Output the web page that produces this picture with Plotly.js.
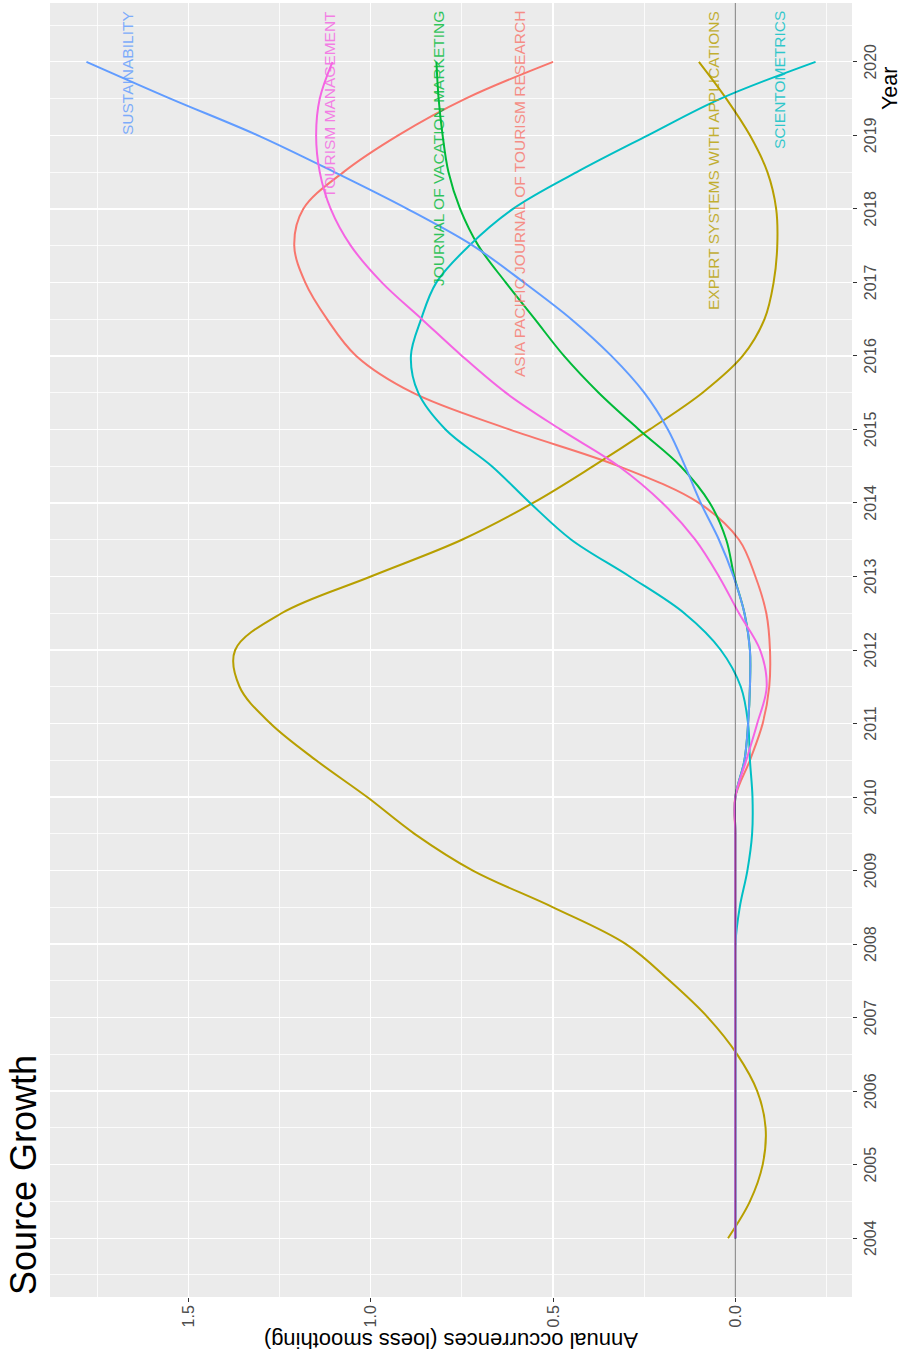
<!DOCTYPE html>
<html><head><meta charset="utf-8">
<script src="https://cdn.plot.ly/plotly-3.0.1.min.js"></script>
<style>
html,body{margin:0;padding:0;width:907px;height:1354px;overflow:hidden;background:#fff;}
#wrap{position:absolute;left:0;top:0;width:1354px;height:907px;transform-origin:0 0;transform:rotate(-90deg) translate(-1354px,0);}
#chart{width:1354px;height:907px;}
</style></head><body><div id="wrap"><div id="chart"></div></div>
<script>
// Shared year grid (half-year steps)
const years = [2004,2004.5,2005,2005.5,2006,2006.5,2007,2007.5,2008,2008.5,2009,2009.5,2010,2010.5,2011,2011.5,2012,2012.5,2013,2013.5,2014,2014.5,2015,2015.5,2016,2016.5,2017,2017.5,2018,2018.5,2019,2019.5,2020];
const yearTicks = [2004,2005,2006,2007,2008,2009,2010,2011,2012,2013,2014,2015,2016,2017,2018,2019,2020];

const sources = ["ASIA PACIFIC JOURNAL OF TOURISM RESEARCH","EXPERT SYSTEMS WITH APPLICATIONS","JOURNAL OF VACATION MARKETING","SCIENTOMETRICS","SUSTAINABILITY","TOURISM MANAGEMENT"];
const colors = ["#F8766D","#B79F00","#00BA38","#00BFC4","#619CFF","#F564E3"];

const asiaPacific = [0,0,0,0,0,0,0,0,0,0,0,0,0,-0.04,-0.075,-0.093,-0.095,-0.085,-0.055,-0.01,0.10,0.32,0.62,0.885,1.04,1.12,1.18,1.21,1.185,1.075,0.925,0.74,0.50];
const expertSystems = [0.02,-0.04,-0.075,-0.083,-0.06,-0.005,0.075,0.18,0.30,0.50,0.72,0.88,1.01,1.15,1.275,1.36,1.372,1.245,1.00,0.75,0.555,0.39,0.235,0.09,-0.02,-0.08,-0.105,-0.115,-0.112,-0.088,-0.04,0.025,0.10];
const vacationMarketing = [0,0,0,0,0,0,0,0,0,0,0,0,0,-0.025,-0.035,-0.04,-0.04,-0.025,0.003,0.025,0.07,0.15,0.265,0.375,0.47,0.55,0.63,0.705,0.755,0.787,0.803,0.814,0.82];
const scientometrics = [0,0,0,0,0,0,0,0,0,-0.012,-0.033,-0.046,-0.047,-0.04,-0.035,-0.015,0.04,0.14,0.29,0.45,0.563,0.668,0.795,0.87,0.89,0.862,0.82,0.73,0.61,0.435,0.24,0.04,-0.22];
const sustainability = [0,0,0,0,0,0,0,0,0,0,0,0,0,-0.025,-0.035,-0.04,-0.04,-0.025,0.005,0.045,0.095,0.138,0.185,0.25,0.34,0.45,0.58,0.72,0.90,1.10,1.31,1.55,1.78];
const tourismManagement = [0,0,0,0,0,0,0,0,0,0,0,0,0,-0.03,-0.06,-0.086,-0.068,-0.01,0.045,0.11,0.20,0.32,0.48,0.63,0.75,0.86,0.97,1.055,1.11,1.14,1.15,1.14,1.105];

const labelY = [0.591,0.060,0.815,-0.122,1.667,1.112];
const labelX = 2020.72;

const series = [asiaPacific, expertSystems, vacationMarketing, scientometrics, sustainability, tourismManagement];
const FONT = "Liberation Sans, Arial, Helvetica, sans-serif";

const traces = series.map((v,i)=>({
  type:'scatter', mode:'lines', x:years, y:v, name:sources[i],
  line:{color:colors[i], width:2, shape:'spline', smoothing:1},
  hoverinfo:'skip', showlegend:false
}));

const annotations = sources.map((s,i)=>({
  text:s, x:labelX, y:labelY[i], xref:'x', yref:'y', xanchor:'right', yanchor:'middle',
  showarrow:false, font:{family:FONT, size:15.5, color:colors[i]}, opacity:0.8
}));
annotations.push({text:'Source Growth', xref:'paper', yref:'paper', x:0, y:1.033, xanchor:'left', yanchor:'middle', showarrow:false, font:{family:FONT, size:36, color:'#000'}});
annotations.push({text:'Year', xref:'paper', yref:'paper', x:0.952, y:-0.047, xanchor:'right', yanchor:'middle', showarrow:false, font:{family:FONT, size:21.5, color:'#000'}});
annotations.push({text:'Annual occurrences (loess smoothing)', xref:'paper', yref:'paper', x:-0.034, y:0.5, xanchor:'center', yanchor:'middle', textangle:-90, showarrow:false, font:{family:FONT, size:22, color:'#000'}});

const layout = {
  width:1354, height:907,
  margin:{l:57, r:3, t:50, b:55, pad:0},
  paper_bgcolor:'#FFFFFF', plot_bgcolor:'#EBEBEB',
  font:{family:FONT, color:'#4D4D4D'},
  xaxis:{range:[2003.2,2020.8], tickmode:'array', tickvals:yearTicks, ticktext:yearTicks.map(String),
    showgrid:true, gridcolor:'#FFFFFF', gridwidth:1.3, zeroline:false, showline:false,
    ticks:'outside', ticklen:4, tickwidth:1, tickcolor:'#333333',
    tickfont:{family:FONT, size:16, color:'#4D4D4D'},
    minor:{tickmode:'linear', tick0:2003.5, dtick:1, showgrid:true, gridcolor:'#FFFFFF', gridwidth:0.8, ticks:''}},
  yaxis:{range:[-0.32,1.88], tickmode:'linear', tick0:0, dtick:0.5, tickformat:'.1f',
    showgrid:true, gridcolor:'#FFFFFF', gridwidth:1.3, zeroline:false, showline:false,
    ticks:'outside', ticklen:4, tickwidth:1, tickcolor:'#333333',
    tickfont:{family:FONT, size:16, color:'#4D4D4D'},
    minor:{tickmode:'linear', tick0:-0.25, dtick:0.5, showgrid:true, gridcolor:'#FFFFFF', gridwidth:0.8, ticks:''}},
  shapes:[{type:'line', xref:'paper', x0:0, x1:1, yref:'y', y0:0, y1:0, layer:'above', line:{color:'rgba(0,0,0,0.5)', width:1}}],
  annotations:annotations
};

Plotly.newPlot('chart', traces, layout, {staticPlot:true, displayModeBar:false});
</script>
</body></html>
